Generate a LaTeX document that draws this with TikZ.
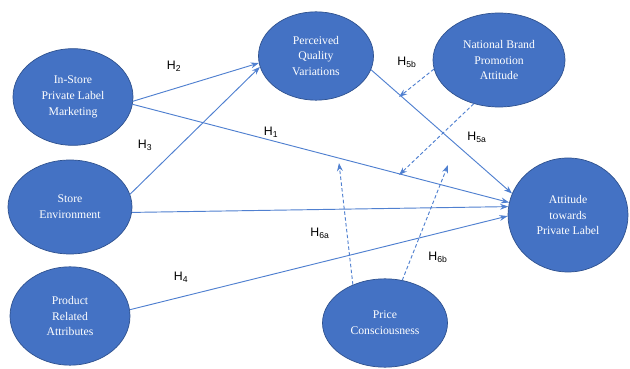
\documentclass[tikz,border=0pt]{standalone}
\usepackage{fontspec}
\setmainfont{Liberation Sans}
\newfontfamily\ovalfont{Liberation Serif}
\usepackage{xcolor}
\usepackage{tikz}
\usetikzlibrary{shapes.geometric,arrows.meta}

\definecolor{ovalblue}{RGB}{68,114,196}
\definecolor{ovalline}{RGB}{47,82,143}
\definecolor{linkblue}{RGB}{80,128,208}

\begin{document}
\begin{tikzpicture}[x=0.03cm, y=-0.03cm,
  construct/.style={ellipse, draw=ovalline, fill=ovalblue, line width=0.6pt, text=white,
    align=center, inner sep=0pt, font=\ovalfont\fontsize{10}{13.5}\selectfont},
  hyp/.style={linkblue, line width=0.8pt, -{Stealth[length=7pt,width=5pt]}},
  moder/.style={hyp, dash pattern=on 3pt off 2pt},
  hlabel/.style={font=\fontsize{10.5}{12}\selectfont}]
\useasboundingbox (0,0) rectangle (630,369);

\node[construct, minimum width=3.6cm, minimum height=2.9cm] (instore) at (73,97) {In-Store\\Private Label\\Marketing};
\node[construct, minimum width=3.72cm, minimum height=2.82cm] (storeenv) at (70,207) {Store\\Environment};
\node[construct, minimum width=3.6cm, minimum height=2.95cm] (product) at (70,316) {Product\\Related\\Attributes};
\node[construct, minimum width=3.45cm, minimum height=2.65cm] (quality) at (316,56) {Perceived\\Quality\\Variations};
\node[construct, minimum width=3.96cm, minimum height=2.82cm] (national) at (499,60) {National Brand\\Promotion\\Attitude};
\node[construct, minimum width=3.6cm, minimum height=3.42cm] (attitude) at (568,215) {Attitude\\towards\\Private Label};
\node[construct, minimum width=3.75cm, minimum height=2.65cm] (price) at (385,323) {Price\\Consciousness};

% free ends of the moderating arrows
\coordinate (tip5b1) at (399,97);
\coordinate (tip5b2) at (399,175);
\coordinate (tip6a) at (339,163);
\coordinate (tip6b) at (448,165);

\draw[hyp] (instore.-4) -- (quality.187);
\draw[hyp] (storeenv.12) -- (quality.191);
\draw[hyp] (instore.-7) -- (attitude.168);
\draw[hyp] (storeenv.-5) -- (attitude.172);
\draw[hyp] (product.6) -- (attitude.181);
\draw[hyp] (quality.-14) -- (attitude.159);

\draw[moder] (national.188) -- (tip5b1);
\draw[moder] (national.240) -- (tip5b2);
\draw[moder] (price.130) -- (tip6a);
\draw[moder] (price.68) -- (tip6b);

\node[hlabel] (h1) at (271,132) {H\textsubscript{1}};
\node[hlabel] (h2) at (174,66) {H\textsubscript{2}};
\node[hlabel] (h3) at (145,145) {H\textsubscript{3}};
\node[hlabel] (h4) at (181,277) {H\textsubscript{4}};
\node[hlabel] (h5a) at (477,137) {H\textsubscript{5a}};
\node[hlabel] (h5b) at (407,62) {H\textsubscript{5b}};
\node[hlabel] (h6a) at (320,233) {H\textsubscript{6a}};
\node[hlabel] (h6b) at (438,257) {H\textsubscript{6b}};

\end{tikzpicture}
\end{document}
